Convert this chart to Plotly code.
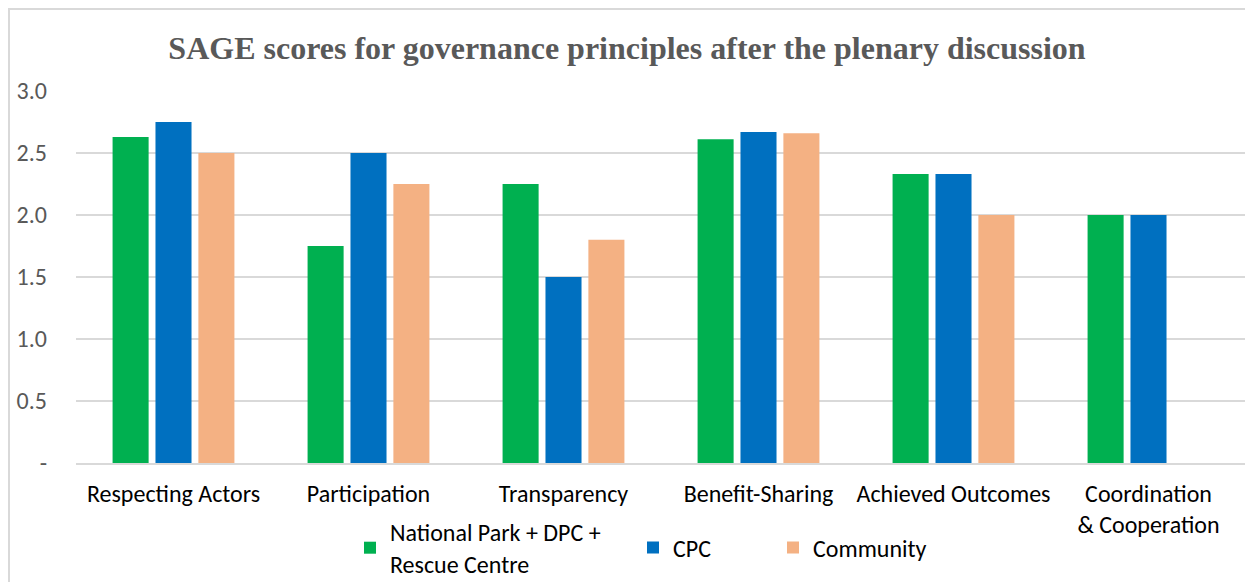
import plotly.graph_objects as go

categories = ["Respecting Actors", "Participation", "Transparency", "Benefit-Sharing",
              "Achieved Outcomes", "Coordination<br>& Cooperation"]
national_park = [2.63, 1.75, 2.25, 2.61, 2.33, 2.00]
cpc = [2.75, 2.50, 1.50, 2.67, 2.33, 2.00]
community = [2.50, 2.25, 1.80, 2.66, 2.00, None]
y_tickvals = [0, 0.5, 1.0, 1.5, 2.0, 2.5, 3.0]
y_ticktext = ["-", "0.5", "1.0", "1.5", "2.0", "2.5", "3.0"]

series = [
    ("National Park + DPC +<br>Rescue Centre", national_park, "#00B050", "legend"),
    ("CPC", cpc, "#0070C0", "legend2"),
    ("Community", community, "#F4B183", "legend3"),
]

fig = go.Figure()
for name, vals, color, leg in series:
    fig.add_trace(go.Bar(x=categories, y=vals, name=name, marker_color=color,
                         marker_line_width=0, legend=leg, showlegend=True))

# page body adds an 8px offset; figure coordinates below are screen - 8
W, H = 1245, 574
L, R, T, B = 68, 7, 83, 119
pw = W - L - R
ph = H - T - B

def px_x(p):
    return (p - L) / pw

def px_y(p):
    return (H - B - p) / ph

def cx(p):
    return p / W

def cy(p):
    return 1 - p / H

FONT = "Carlito, Calibri, Lato, sans-serif"
legfont = dict(family=FONT, size=24, color="#000000")
leg_common = dict(orientation="h", yanchor="middle", xanchor="left",
                  xref="container", yref="container", y=cy(540),
                  font=legfont, bgcolor="rgba(0,0,0,0)", visible=True)

fig.update_layout(
    width=W, height=H, autosize=False, showlegend=True,
    margin=dict(l=L, r=R, t=T, b=B, autoexpand=False),
    paper_bgcolor="white", plot_bgcolor="white",
    title=dict(text="<b>SAGE scores for governance principles after the plenary discussion</b>",
               x=619 / W, xanchor="center", xref="container",
               y=1 - 40 / H, yanchor="middle", yref="container",
               font=dict(family="Liberation Serif, Times New Roman, serif", size=32, color="#595959")),
    barmode="group", bargap=0.34, bargroupgap=0.16,
    legend=dict(x=cx(342), **leg_common),
    legend2=dict(x=cx(625), **leg_common),
    legend3=dict(x=cx(765), **leg_common),
    xaxis=dict(showgrid=False, showline=True, linecolor="#d9d9d9", linewidth=2,
               ticks="", tickfont=dict(family=FONT, size=24, color="#000000"),
               ticklabelstandoff=8, automargin=False),
    yaxis=dict(range=[0, 3.0], tickvals=y_tickvals, ticktext=y_ticktext,
               showgrid=True, gridcolor="#d9d9d9", gridwidth=1.5, zeroline=False,
               showline=False, ticks="", automargin=False,
               tickfont=dict(family=FONT, size=24, color="#595959"),
               ticklabelstandoff=28),
    shapes=[dict(type="rect", xref="paper", yref="paper",
                 x0=px_x(1), x1=px_x(1240), y0=px_y(620), y1=px_y(1),
                 line=dict(color="#d9d9d9", width=2), fillcolor="rgba(0,0,0,0)", layer="below")],
)

fig.write_html("out.html")
